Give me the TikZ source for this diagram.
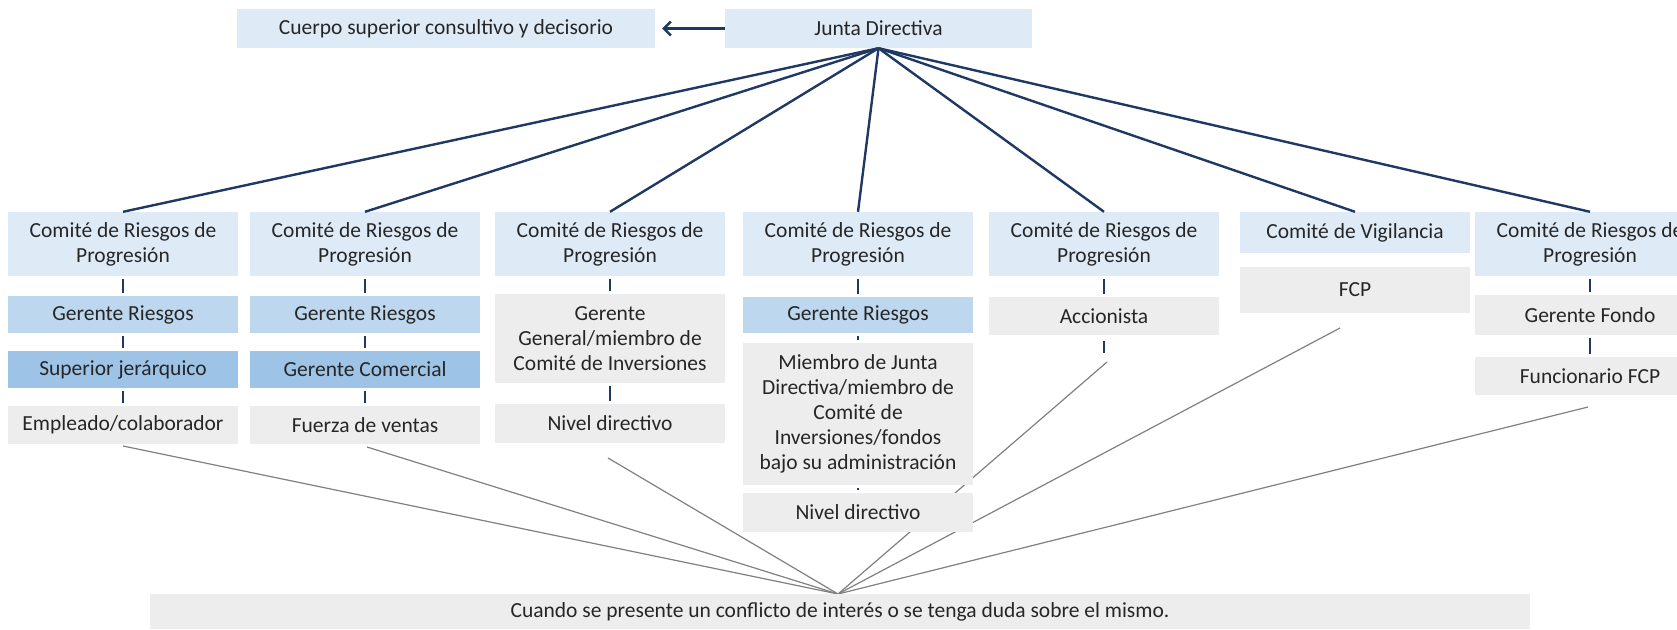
\documentclass[tikz,border=0pt]{standalone}
\usepackage{fontspec}
\setmainfont{Carlito}
\usetikzlibrary{arrows.meta}
\definecolor{lblue}{HTML}{DEEBF7}
\definecolor{mblue}{HTML}{BDD7EE}
\definecolor{dblue}{HTML}{9DC3E6}
\definecolor{lgray}{HTML}{EDEDED}
\definecolor{navy}{HTML}{1F3864}
\definecolor{glink}{HTML}{808080}
\pgfdeclarelayer{bg}
\pgfsetlayers{bg,main}
\tikzset{
  box/.style={rectangle, inner sep=0pt, minimum width=230pt, align=center,
    font=\fontsize{21.5}{25}\selectfont, text=black!85},
  combox/.style={box, fill=lblue, minimum height=64pt},
  grbox/.style={box, fill=mblue, minimum height=37pt},
  supbox/.style={box, fill=dblue, minimum height=37pt},
  gbox/.style={box, fill=lgray},
  navyline/.style={draw=navy, line width=2.4pt},
  tickline/.style={draw=navy, line width=2.4pt, shorten <=3pt, shorten >=3pt},
  grayline/.style={draw=glink, line width=1.2pt},
}
\begin{document}
\begin{tikzpicture}[x=1pt,y=-1pt]
\useasboundingbox (0,0) rectangle (1677,629);
% top
\node[box, fill=lblue, minimum width=418pt, minimum height=39pt] (cuerpo) at (446,28.5) {Cuerpo superior consultivo y decisorio};
\node[box, fill=lblue, minimum width=307pt, minimum height=39pt] (junta) at (878.5,28.5) {Junta Directiva};
\draw[navyline, -{Straight Barb[length=7pt,width=14pt]}, shorten >=7pt] (junta.west) -- (cuerpo.east);
% committees
\node[combox] (c1) at (123,244) {Comité de Riesgos de\\Progresión};
\node[combox] (c2) at (365,244) {Comité de Riesgos de\\Progresión};
\node[combox] (c3) at (610,244) {Comité de Riesgos de\\Progresión};
\node[combox] (c4) at (858,244) {Comité de Riesgos de\\Progresión};
\node[combox] (c5) at (1104,244) {Comité de Riesgos de\\Progresión};
\node[box, fill=lblue, minimum height=41pt] (c6) at (1355,232.5) {Comité de Vigilancia};
\node[combox] (c7) at (1590,244) {Comité de Riesgos de\\Progresión};
% column 1
\node[grbox] (gr1) at (123,314.5) {Gerente Riesgos};
\node[supbox] (sj1) at (123,369.5) {Superior jerárquico};
\node[gbox, minimum height=38pt] (emp1) at (123,425) {Empleado/colaborador};
% column 2
\node[grbox] (gr2) at (365,314.5) {Gerente Riesgos};
\node[supbox] (gc2) at (365,369.5) {Gerente Comercial};
\node[gbox, minimum height=38pt] (fv2) at (365,425) {Fuerza de ventas};
% column 3
\node[gbox, minimum height=89pt] (gg3) at (610,338.5) {Gerente\\General/miembro de\\Comité de Inversiones};
\node[gbox, minimum height=39pt] (nd3) at (610,423.5) {Nivel directivo};
% column 4
\node[grbox, minimum height=36pt] (gr4) at (858,315) {Gerente Riesgos};
\node[gbox, minimum height=142pt] (mj4) at (858,414) {Miembro de Junta\\Directiva/miembro de\\Comité de\\Inversiones/fondos\\bajo su administración};
\node[gbox, minimum height=39pt] (nd4) at (858,512.5) {Nivel directivo};
% column 5
\node[gbox, minimum height=38pt] (acc5) at (1104,316) {Accionista};
\coordinate (accend) at (1104,353);
% column 6
\node[gbox, minimum height=46pt] (fcp6) at (1355,290) {FCP};
% column 7
\node[gbox, minimum height=40pt] (gf7) at (1590,315) {Gerente Fondo};
\node[gbox, minimum height=38pt] (fu7) at (1590,376) {Funcionario FCP};
% bottom
\node[gbox, minimum width=1380pt, minimum height=35pt] (bottom) at (840,611.5) {Cuando se presente un conflicto de interés o se tenga duda sobre el mismo.};
% navy lines from Junta
\foreach \c in {c1,c2,c3,c4,c5,c6,c7}
  \draw[navyline] (junta.south) -- (\c.north);
% ticks
\draw[tickline] (c1) -- (gr1);
\draw[tickline] (gr1) -- (sj1);
\draw[tickline] (sj1) -- (emp1);
\draw[tickline] (c2) -- (gr2);
\draw[tickline] (gr2) -- (gc2);
\draw[tickline] (gc2) -- (fv2);
\draw[tickline] (c3) -- (gg3);
\draw[tickline] (gg3) -- (nd3);
\draw[tickline] (c4) -- (gr4);
\draw[tickline, shorten <=2.5pt, shorten >=2.5pt] (gr4) -- (mj4);
\draw[tickline, shorten <=2.5pt, shorten >=2.5pt] (mj4) -- (nd4);
\draw[tickline] (c5) -- (acc5);
\draw[tickline, shorten >=0pt, shorten <=6pt] (acc5) -- (accend);
\draw[tickline] (c7) -- (gf7);
\draw[tickline] (gf7) -- (fu7);
% gray lines to the bottom box
\coordinate (conv) at (838,594);
\coordinate (s1) at (123,446);
\coordinate (s2) at (367,447);
\coordinate (s3) at (608,458);
\coordinate (s5) at (1107,362);
\coordinate (s6) at (1340,328);
\coordinate (s7) at (1588,407);
\begin{pgfonlayer}{bg}
\foreach \s in {s1,s2,s3,s5,s6,s7}
  \draw[grayline] (\s) -- (conv);
\end{pgfonlayer}
\end{tikzpicture}
\end{document}
